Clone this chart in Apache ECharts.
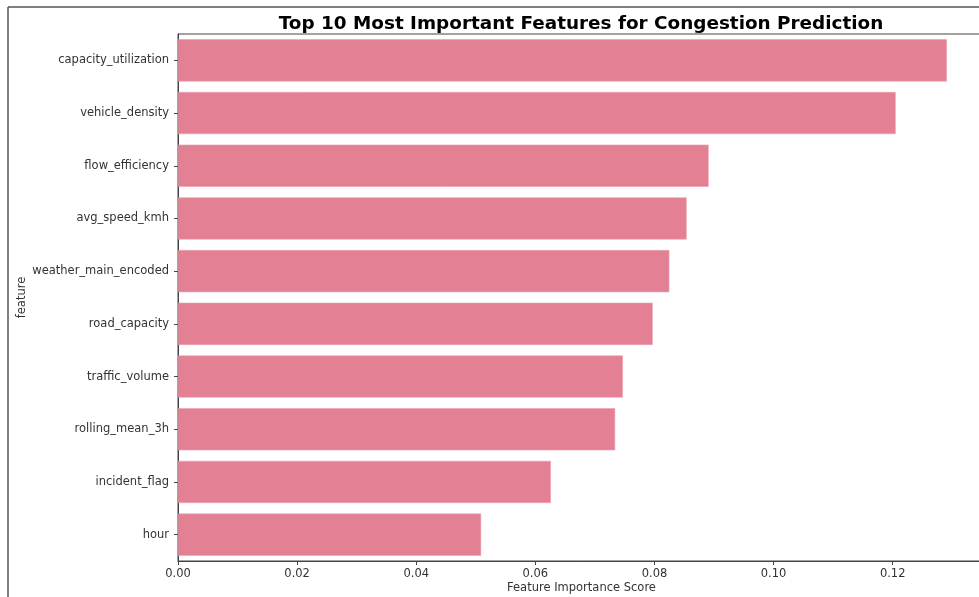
<!DOCTYPE html>
<html>
<head>
<meta charset="utf-8">
<script src="https://cdn.jsdelivr.net/npm/echarts@6/dist/echarts.min.js"></script>
<style>
html,body{margin:0;padding:0;background:#fff;overflow:hidden;}
#chart{width:979px;height:597px;}
</style>
</head>
<body>
<div id="chart"></div>
<script>
const titleText = 'Top 10 Most Important Features for Congestion Prediction';
const features = ['capacity_utilization','vehicle_density','flow_efficiency','avg_speed_kmh','weather_main_encoded','road_capacity','traffic_volume','rolling_mean_3h','incident_flag','hour'];
const importance = [0.1291, 0.1205, 0.0891, 0.0854, 0.0825, 0.0797, 0.0747, 0.0734, 0.0626, 0.0509];
const xTicks = [0, 0.02, 0.04, 0.06, 0.08, 0.10, 0.12];

const chart = echarts.init(document.getElementById('chart'), null, {renderer:'canvas'});
const font = 'DejaVu Sans';
chart.setOption({
  animation:false,
  backgroundColor:'#fff',
  title:{
    text:titleText,
    left:576, top:10, textAlign:'center',
    textStyle:{fontFamily:font, fontWeight:'bold', fontSize:18.4, color:'#000'}
  },
  graphic:[
    {type:'line', shape:{x1:8,y1:7,x2:979,y2:7}, style:{stroke:'#555',lineWidth:1.5}},
    {type:'line', shape:{x1:8,y1:7,x2:8,y2:597}, style:{stroke:'#555',lineWidth:1.5}}
  ],
  grid:{left:178, top:34, width:807, height:527, outerBoundsMode:'none', containLabel:false,
    show:true, borderColor:'#444', borderWidth:1, backgroundColor:'transparent'},
  xAxis:{
    type:'value', min:0, max:0.1355, interval:0.02,
    name:'Feature Importance Score', nameLocation:'middle', nameGap:21, nameMoveOverlap:false,
    nameTextStyle:{fontFamily:font, fontSize:11.5, color:'#333'},
    axisLine:{show:true, lineStyle:{color:'#444', width:1}},
    axisTick:{show:true, length:4, lineStyle:{color:'#444'}},
    axisLabel:{fontFamily:font, fontSize:11.5, color:'#333', margin:7, showMaxLabel:false,
      formatter:function(v){ return xTicks.some(t=>Math.abs(t-v)<1e-9) ? v.toFixed(2) : ''; }},
    splitLine:{show:false}
  },
  yAxis:{
    type:'category', data:features, inverse:true,
    name:'feature', nameLocation:'middle', nameGap:150, nameRotate:90, nameMoveOverlap:false,
    nameTextStyle:{fontFamily:font, fontSize:11.5, color:'#333'},
    axisLine:{show:true, lineStyle:{color:'#444', width:1}},
    axisTick:{show:true, length:4, alignWithLabel:true, lineStyle:{color:'#444'}},
    axisLabel:{fontFamily:font, fontSize:11.5, color:'#333', margin:9}
  },
  series:[{
    type:'bar', data:importance, barCategoryGap:'20%',
    itemStyle:{color:'#e48093', borderColor:'#e9a0ae', borderWidth:0.6}
  }]
});
</script>
</body>
</html>
